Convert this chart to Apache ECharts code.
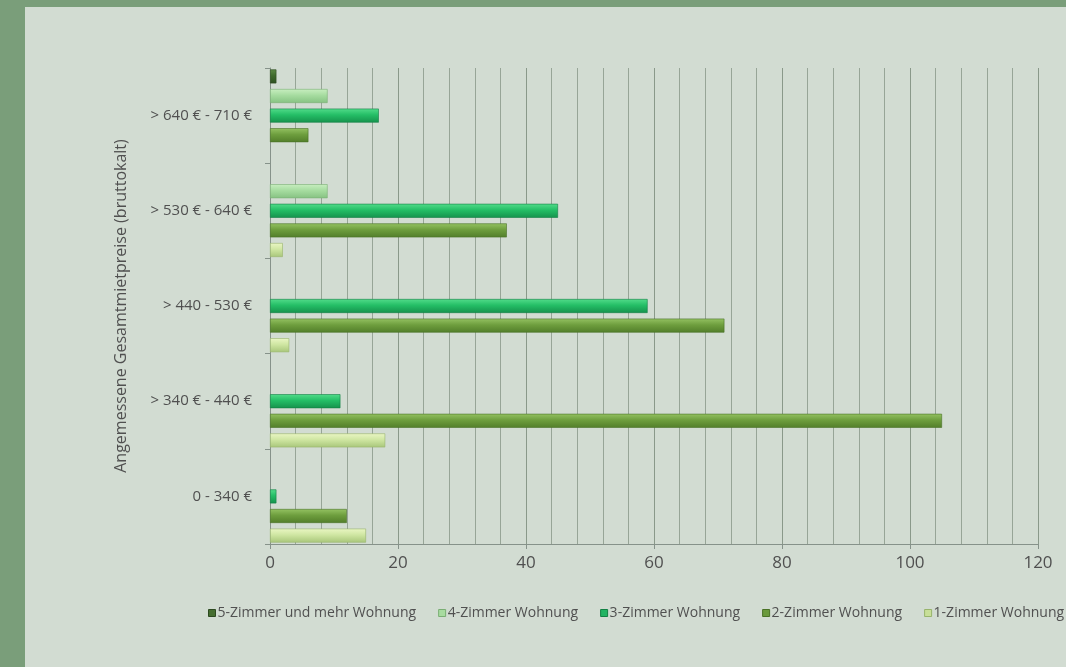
<!DOCTYPE html>
<html>
<head>
<meta charset="utf-8">
<script src="https://cdn.jsdelivr.net/npm/echarts@6/dist/echarts.min.js"></script>
<style>
  html, body { margin: 0; padding: 0; background: #7a9e7a; }
  #chart { width: 1066px; height: 667px; }
</style>
</head>
<body>
<div id="chart"></div>
<script>
// Rent brackets, bottom to top on the category axis
const categories = ['0 - 340 €', '> 340 € - 440 €', '> 440 - 530 €', '> 530 € - 640 €', '> 640 € - 710 €'];

// Number of flats per bracket, one array per flat size
const zimmer5 = [0, 0, 0, 0, 1];
const zimmer4 = [0, 0, 0, 9, 9];
const zimmer3 = [1, 11, 59, 45, 17];
const zimmer2 = [12, 105, 71, 37, 6];
const zimmer1 = [15, 18, 3, 2, 0];

const seriesNames = ['5-Zimmer und mehr Wohnung', '4-Zimmer Wohnung', '3-Zimmer Wohnung', '2-Zimmer Wohnung', '1-Zimmer Wohnung'];
const xTicks = [0, 20, 40, 60, 80, 100, 120];

// Shaded fills for the bars: light top edge, darker lower edge
function shade(top, mid, bottom) {
  return new echarts.graphic.LinearGradient(0, 0, 0, 1, [
    { offset: 0, color: top },
    { offset: 0.45, color: mid },
    { offset: 1, color: bottom }
  ]);
}
const palette = [
  { fill: shade('#5d8a46', '#3f6a2c', '#2f5222'), legend: '#456e30', border: '#2d4a20' },
  { fill: shade('#c8eec0', '#a6dca0', '#86c282'), legend: '#a8dca0', border: '#7aae74' },
  { fill: shade('#52dc8a', '#24be66', '#15924c'), legend: '#22b463', border: '#128044' },
  { fill: shade('#94c262', '#6e9e3e', '#527e2a'), legend: '#6a9a3c', border: '#4a7226' },
  { fill: shade('#eaf6c4', '#cfe6a2', '#a8c67a'), legend: '#c8df98', border: '#98b46c' }
];
const data = [zimmer5, zimmer4, zimmer3, zimmer2, zimmer1];

// First series sits at the top of each band; empty counts draw no bar
const series = data.map((values, i) => ({
  name: seriesNames[i],
  type: 'bar',
  data: values.map(v => (v === 0 ? '-' : v)),
  barWidth: 14,
  barGap: '40%',
  itemStyle: { color: palette[i].fill, borderColor: palette[i].border, borderWidth: 0.6 },
  emphasis: { disabled: true }
}));

const chart = echarts.init(document.getElementById('chart'), null, { renderer: 'canvas' });
chart.setOption({
  backgroundColor: '#7a9e7a',
  animation: false,
  color: palette.map(p => p.legend),
  graphic: [{
    type: 'rect', z: -10, silent: true,
    shape: { x: 25, y: 7, width: 1066 - 25, height: 667 - 7 },
    style: { fill: '#d2dcd2' }
  }],
  textStyle: { fontFamily: '"Open Sans", "DejaVu Sans", sans-serif' },
  grid: { left: 270, right: 28, top: 68, bottom: 123, containLabel: false },
  legend: {
    data: seriesNames.map((n, i) => ({ name: n, itemStyle: { color: palette[i].legend, borderColor: palette[i].border, borderWidth: 1 } })),
    left: 203, top: 601, width: 1400,
    itemWidth: 7, itemHeight: 7, itemGap: 22,
    icon: 'rect',
    textStyle: { color: '#505050', fontSize: 14, padding: [0, 0, 0, -3] }
  },
  xAxis: {
    type: 'value', min: 0, max: 120, interval: 20,
    axisLine: { show: true, lineStyle: { color: '#86928a', width: 1 } },
    axisTick: { show: true, length: 5, lineStyle: { color: '#86928a' } },
    axisLabel: { color: '#505050', fontSize: 17, margin: 11 },
    splitLine: { show: true, lineStyle: { color: '#8a998a', width: 1 } },
    minorTick: { show: false, splitNumber: 5 },
    minorSplitLine: { show: true, lineStyle: { color: '#97a597', width: 1 } }
  },
  yAxis: {
    type: 'category', data: categories,
    name: 'Angemessene Gesamtmietpreise (bruttokalt)',
    nameLocation: 'middle', nameGap: 141, nameRotate: 90,
    nameTextStyle: { color: '#505050', fontSize: 16 },
    axisLine: { show: true, lineStyle: { color: '#86928a', width: 1 } },
    axisTick: { show: true, length: 5, lineStyle: { color: '#86928a' } },
    axisLabel: { color: '#505050', fontSize: 15, margin: 18 }
  },
  series: series
});
</script>
</body>
</html>
